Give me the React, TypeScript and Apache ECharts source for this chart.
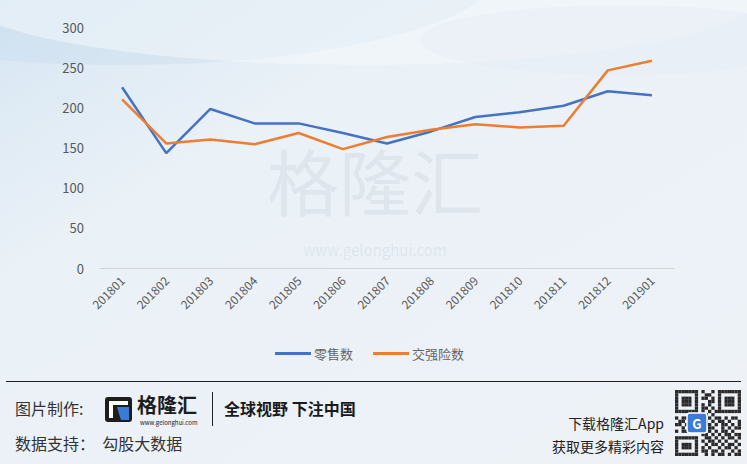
import React, { useEffect, useRef } from "react";
import * as echarts from "echarts";

const categories = ["201801","201802","201803","201804","201805","201806","201807","201808","201809","201810","201811","201812","201901"];
const retail = [225, 143, 198, 180, 180, 168, 155, 170, 188, 194, 202, 220, 215];
const insurance = [210, 155, 160, 154, 168, 148, 163, 172, 179, 175, 177, 246, 258];
const seriesNames = ["零售数", "交强险数"];
const yMax = 300;
const yInterval = 50;

const FONT = "'Noto Sans CJK SC', 'Noto Sans', sans-serif";

function qrCells() {
  const cells: any[] = [];
  const x0 = 675, y0 = 390, s = 3.3, n = 20;
  const pattern = [
    "11111110100101111111",
    "10000010011001000001",
    "10111010110101011101",
    "10111010001101011101",
    "10111010101001011101",
    "10000010110101000001",
    "11111110101011111111",
    "00000000110100000000",
    "10110111001011010110",
    "01101000110101101001",
    "11010110011010110101",
    "00101001101100101011",
    "10110100101010110100",
    "00000000110101011011",
    "11111110011010101101",
    "10000010101101010010",
    "10111010010110101101",
    "10111010101001011010",
    "10000010110110100101",
    "11111110010101101011",
  ];
  for (let r = 0; r < n; r++) {
    for (let c = 0; c < n; c++) {
      if (pattern[r][c] === "1") {
        cells.push({ type: "rect", shape: { x: x0 + c * s, y: y0 + r * s, width: s, height: s }, style: { fill: "#2a2a2a" } });
      }
    }
  }
  cells.push({ type: "rect", shape: { x: 687, y: 413, width: 20, height: 20, r: 3 }, style: { fill: "#3a7bd5", stroke: "#ffffff", lineWidth: 1.5 } });
  cells.push({ type: "text", style: { text: "G", x: 697, y: 423, fill: "#fff", font: "bold 13px " + FONT, align: "center", verticalAlign: "middle" } });
  return cells;
}

export default function App() {
  const ref = useRef<HTMLDivElement>(null);
  useEffect(() => {
    if (!ref.current) return;
    const chart = echarts.init(ref.current, null, { renderer: "svg" });
    chart.setOption({
      animation: false,
      backgroundColor: {
        type: "linear", x: 0, y: 0, x2: 1, y2: 1,
        colorStops: [
          { offset: 0, color: "#d6e6f3" },
          { offset: 0.3, color: "#eaf1f7" },
          { offset: 1, color: "#eef2f7" },
        ],
      },
      graphic: [
        { type: "ellipse", z: -10, shape: { cx: 120, cy: -30, rx: 380, ry: 95 }, style: { fill: "rgba(195,218,236,0.35)" }, silent: true },
        { type: "ellipse", z: -10, shape: { cx: 360, cy: -5, rx: 400, ry: 70 }, style: { fill: "rgba(246,249,252,0.5)" }, silent: true },
        { type: "ellipse", z: -10, shape: { cx: 620, cy: 40, rx: 200, ry: 35 }, style: { fill: "rgba(225,235,244,0.35)" }, silent: true },
        { type: "text", z: -5, silent: true, style: { text: "格隆汇", x: 375, y: 178, align: "center", verticalAlign: "middle", font: "72px " + FONT, fill: "rgba(170,180,190,0.18)" } },
        { type: "text", z: -5, silent: true, style: { text: "www.gelonghui.com", x: 375, y: 249, align: "center", verticalAlign: "middle", font: "15px " + FONT, fill: "rgba(170,180,190,0.2)" } },
        { type: "line", shape: { x1: 6, y1: 381.5, x2: 741, y2: 381.5 }, style: { stroke: "#222", lineWidth: 1 } },
        { type: "text", style: { text: "图片制作:", x: 15, y: 408, verticalAlign: "middle", font: "16px " + FONT, fill: "#333" } },
        { type: "rect", shape: { x: 105, y: 397, width: 27, height: 25, r: 3 }, style: { fill: "#1d1d1d" } },
        { type: "polygon", shape: { points: [[117, 407], [129, 407], [129, 420], [121, 420]] }, style: { fill: "#3a7bd5" } },
        { type: "rect", shape: { x: 109, y: 401, width: 19, height: 4 }, style: { fill: "#ffffff" } },
        { type: "rect", shape: { x: 109, y: 401, width: 4, height: 17 }, style: { fill: "#ffffff" } },
        { type: "text", style: { text: "格隆汇", x: 137, y: 404, verticalAlign: "middle", font: "bold 20px " + FONT, fill: "#1d1d1d" } },
        { type: "text", style: { text: "www.gelonghui.com", x: 140, y: 422, verticalAlign: "middle", font: "6px " + FONT, fill: "#1d1d1d" } },
        { type: "line", shape: { x1: 212.5, y1: 392, x2: 212.5, y2: 426 }, style: { stroke: "#222", lineWidth: 1 } },
        { type: "text", style: { text: "全球视野 下注中国", x: 224, y: 408, verticalAlign: "middle", font: "bold 16px " + FONT, fill: "#1a1a1a" } },
        { type: "text", style: { text: "数据支持：  勾股大数据", x: 15, y: 443, verticalAlign: "middle", font: "16px " + FONT, fill: "#333" } },
        { type: "text", style: { text: "下载格隆汇App", x: 664, y: 423, align: "right", verticalAlign: "middle", font: "14px " + FONT, fill: "#222" } },
        { type: "text", style: { text: "获取更多精彩内容", x: 664, y: 446, align: "right", verticalAlign: "middle", font: "14px " + FONT, fill: "#222" } },
        ...qrCells(),
      ],
      grid: { left: 100, right: 73, top: 27, bottom: 196, containLabel: false },
      legend: {
        data: seriesNames,
        left: 270,
        top: 342,
        icon: "rect",
        itemWidth: 36,
        itemHeight: 3,
        itemGap: 20,
        textStyle: { color: "#666", fontSize: 13, fontFamily: FONT, padding: [0, 0, 0, -2] },
      },
      xAxis: {
        type: "category",
        data: categories,
        boundaryGap: true,
        axisLine: { lineStyle: { color: "#d0d4d8" } },
        axisTick: { show: false },
        axisLabel: { rotate: 45, color: "#595959", fontSize: 12, fontFamily: FONT, margin: 10, interval: 0 },
      },
      yAxis: {
        type: "value",
        min: 0,
        max: yMax,
        interval: yInterval,
        axisLine: { show: false },
        axisTick: { show: false },
        splitLine: { show: false },
        axisLabel: { color: "#595959", fontSize: 13, fontFamily: FONT, margin: 16 },
      },
      series: [
        { name: seriesNames[0], type: "line", data: retail, symbol: "none", lineStyle: { color: "#4472c4", width: 2.5 }, itemStyle: { color: "#4472c4" } },
        { name: seriesNames[1], type: "line", data: insurance, symbol: "none", lineStyle: { color: "#ed7d31", width: 2.5 }, itemStyle: { color: "#ed7d31" } },
      ],
    });
    return () => chart.dispose();
  }, []);
  return <div ref={ref} style={{ position: "fixed", left: 0, top: 0, width: 747, height: 464 }} />;
}
